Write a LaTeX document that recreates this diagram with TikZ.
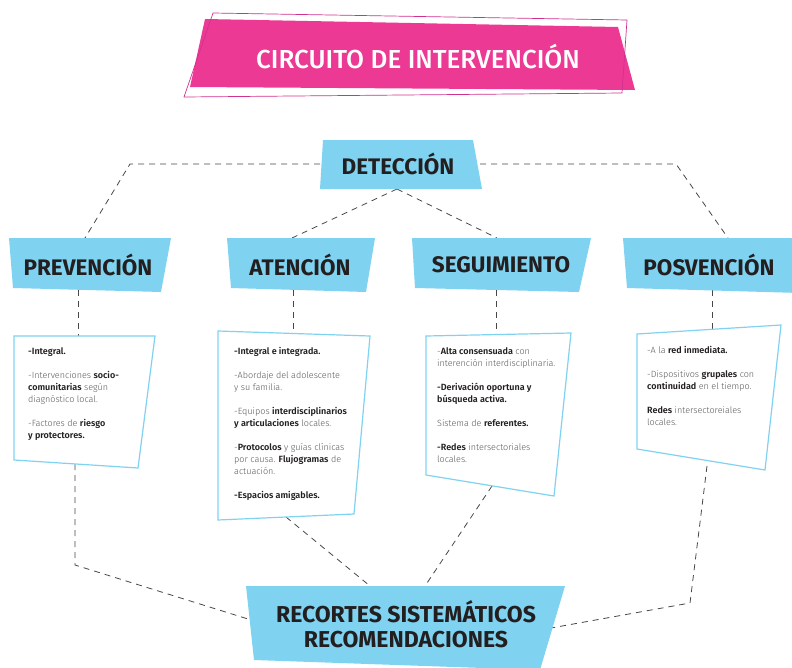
\documentclass[tikz,border=0pt]{standalone}
\usepackage{fontspec}
\setmainfont{Fira Sans}[UprightFont=* Light, BoldFont=* SemiBold]
\newfontfamily\headfont{Fira Sans}[UprightFont=* Bold]
\newfontfamily\titlefont{Fira Sans}[UprightFont=* Medium]
\definecolor{skyb}{HTML}{7FD3F1}
\definecolor{pinkf}{HTML}{EC3A94}
\definecolor{pinkl}{HTML}{D0308F}
\definecolor{txt}{HTML}{231F20}
\definecolor{gtx}{HTML}{58595B}
\newcommand{\bt}[1]{{\bfseries\color{txt}#1}}
\begin{document}
\begin{tikzpicture}[x=1pt,y=-1pt,
  conn/.style={draw=black!72, line width=0.8pt, dash pattern=on 6pt off 5pt},
  hdr/.style={font=\headfont\fontsize{22.5}{24}\selectfont, text=txt, inner sep=0},
  body/.style={anchor=north west, inner sep=0, align=left, font=\fontsize{9}{12}\selectfont, text=gtx},
  card/.style={draw=skyb, line width=1.2pt, fill=white}]
\useasboundingbox (0,0) rectangle (792,667);

% title
\fill[pinkf] (205,19) -- (618,27) -- (635,90) -- (190,87) -- cycle;
\draw[pinkl, line width=0.7pt] (213,13) -- (627,20) -- (622,93) -- (184,97) -- cycle;
\node[font=\titlefont\fontsize{26}{28}\selectfont, text=white, inner sep=0] (title) at (418,57) {CIRCUITO DE INTERVENCIÓN};

% coordinates
\coordinate (detL) at (320,164);
\coordinate (detR) at (480,164);
\coordinate (detB) at (397,189);
\coordinate (prevT) at (85,238);
\coordinate (atenT) at (292,238);
\coordinate (seguT) at (497,238);
\coordinate (posvT) at (728,238);
\coordinate (prevB) at (78,290);
\coordinate (atenB) at (293,290);
\coordinate (seguB) at (496,290);
\coordinate (posvB) at (712,290);
\coordinate (c1T) at (78,336);
\coordinate (c2T) at (293,334);
\coordinate (c3T) at (496,335);
\coordinate (c4T) at (712,330);
\coordinate (c1B) at (75,464);
\coordinate (c2B) at (286,517);
\coordinate (c3B) at (492,486);
\coordinate (c4B) at (707,466);
\coordinate (recL) at (248,619);
\coordinate (recT1) at (370,586);
\coordinate (recT2) at (425,586);
\coordinate (recR) at (551,628);

% connectors
\draw[conn] (detL) -- (130,164) -- (prevT);
\draw[conn] (detR) -- (676,164) -- (posvT);
\draw[conn] (detB) -- (atenT);
\draw[conn] (detB) -- (seguT);
\draw[conn] (prevB) -- (c1T);
\draw[conn] (atenB) -- (c2T);
\draw[conn] (seguB) -- (c3T);
\draw[conn] (posvB) -- (c4T);
\draw[conn] (c1B) -- (75,565) -- (recL);
\draw[conn] (c2B) -- (recT1);
\draw[conn] (c3B) -- (recT2);
\draw[conn] (c4B) -- (690,603) -- (recR);

% header boxes
\fill[skyb] (323,140) -- (473,140) -- (482,189) -- (320,189) -- cycle;
\node[hdr] (det) at (398,164) {DETECCIÓN};
\fill[skyb] (9,238) -- (171,238) -- (161,292) -- (13,288) -- cycle;
\node[hdr] (prev) at (88,265) {PREVENCIÓN};
\fill[skyb] (227,238) -- (375,238) -- (366,292) -- (231,288) -- cycle;
\node[hdr] (aten) at (300,265) {ATENCIÓN};
\fill[skyb] (412,238) -- (591,238) -- (579,292) -- (415,288) -- cycle;
\node[hdr] (segu) at (501,265) {SEGUIMIENTO};
\fill[skyb] (623,238) -- (800,238) -- (800,293) -- (627,288) -- cycle;
\node[hdr] (posv) at (709,265) {POSVENCIÓN};

% cards
\draw[card] (14,336) -- (155,336) -- (138,468) -- (14,460) -- cycle;
\draw[card] (218,331) -- (370,336) -- (354,514) -- (218,520) -- cycle;
\draw[card] (426,336) -- (571,333) -- (554,496) -- (426,475) -- cycle;
\draw[card] (637,334) -- (781,325) -- (765,470) -- (637,449) -- cycle;

\node[body] (t1) at (28,347) {\bt{-Integral.}\\[12pt]
-Intervenciones \bt{socio-}\\
\bt{comunitarias} según\\
diagnóstico local.\\[12pt]
-Factores de \bt{riesgo}\\
\bt{y protectores.}};

\node[body] (t2) at (234,347) {\bt{-Integral e integrada.}\\[12pt]
-Abordaje del adolescente\\
y su familia.\\[12pt]
-Equipos \bt{interdisciplinarios}\\
\bt{y articulaciones} locales.\\[12pt]
-\bt{Protocolos} y guías clínicas\\
por causa. \bt{Flujogramas} de\\
actuación.\\[12pt]
\bt{-Espacios amigables.}};

\node[body] (t3) at (437,347) {-\bt{Alta consensuada} con\\
interención interdisciplinaria.\\[12pt]
\bt{-Derivación oportuna y}\\
\bt{búsqueda activa.}\\[12pt]
Sistema de \bt{referentes.}\\[12pt]
\bt{-Redes} intersectoriales\\
locales.};

\node[body] (t4) at (647,346) {-A la \bt{red inmediata.}\\[12pt]
-Dispositivos \bt{grupales} con\\
\bt{continuidad} en el tiempo.\\[12pt]
\bt{Redes} intersectoreiales\\
locales.};

% bottom box
\fill[skyb] (246,586) -- (565,586) -- (540,670) -- (254,660) -- cycle;
\node[hdr, align=center, font=\headfont\fontsize{23}{25}\selectfont] (rec) at (406,624) {RECORTES SISTEMÁTICOS\\RECOMENDACIONES};
\end{tikzpicture}
\end{document}
